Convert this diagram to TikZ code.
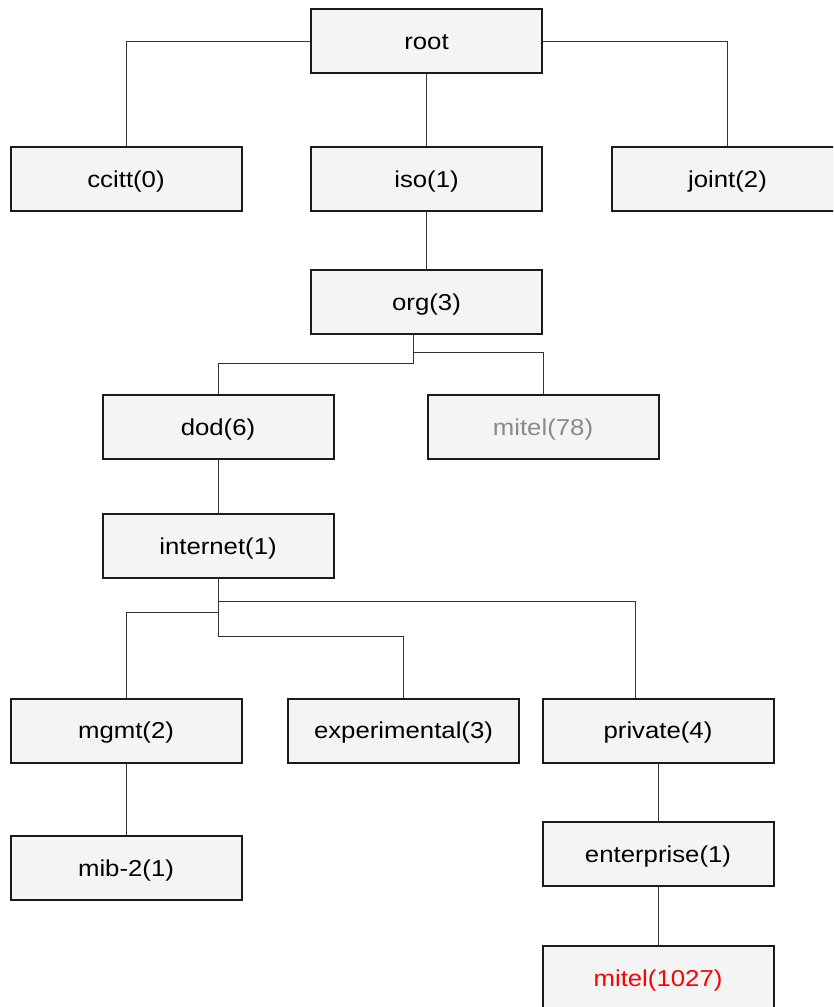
\documentclass[tikz,border=0pt]{standalone}
\usepackage{fontspec}
\setmainfont{Liberation Sans}[FakeStretch=1.12]
\definecolor{boxfill}{HTML}{F4F4F4}
\definecolor{boxline}{HTML}{1A1A1A}
\definecolor{conline}{HTML}{333333}
\definecolor{graytext}{HTML}{8A8A8A}
\begin{document}
\begin{tikzpicture}[x=1pt,y=-1pt,
  oidbox/.style={draw=boxline, line width=2pt, fill=boxfill, rectangle,
    minimum width=231pt, minimum height=64pt, inner sep=0pt,
    text height=16.5pt, text depth=0pt,
    font=\fontsize{23}{27}\selectfont},
  conn/.style={draw=conline, line width=1pt}]
\useasboundingbox (0,0) rectangle (833,1007);
\clip (0,0) rectangle (833,1007);

\node[oidbox] (root) at (426.5,41) {root};
\node[oidbox] (ccitt) at (126,179) {ccitt(0)};
\node[oidbox] (iso) at (426.5,179) {iso(1)};
\node[oidbox] (joint) at (727.5,179) {joint(2)};
\node[oidbox] (org) at (426.5,302) {org(3)};
\node[oidbox] (dod) at (218,427) {dod(6)};
\node[oidbox, text=graytext] (mitelA) at (543,427) {mitel(78)};
\node[oidbox] (internet) at (218,546) {internet(1)};
\node[oidbox] (mgmt) at (126,730.5) {mgmt(2)};
\node[oidbox] (exper) at (403.5,730.5) {experimental(3)};
\node[oidbox] (private) at (658,730.5) {private(4)};
\node[oidbox] (mib) at (126,868) {mib-2(1)};
\node[oidbox] (enter) at (658,854) {enterprise(1)};
\node[oidbox, text=red] (mitelB) at (658,978) {mitel(1027)};

\path[conn] (root.west) -| (ccitt.north);
\path[conn] (root.east) -| (joint.north);
\path[conn] (root.south) -- (iso.north);
\path[conn] (iso.south) -- (org.north);
\path[conn] ([xshift=-13.5pt]org.south) |- ([yshift=31pt]dod.north) -- (dod.north);
\path[conn] ([xshift=-13.5pt]org.south) |- ([yshift=42pt]mitelA.north) -- (mitelA.north);
\path[conn] (dod.south) -- (internet.north);
\path[conn] (internet.south) |- ([xshift=-23pt,yshift=96pt]private.north) -- ([xshift=-23pt]private.north);
\path[conn] (internet.south) |- ([yshift=85pt]mgmt.north) -- (mgmt.north);
\path[conn] (internet.south) |- ([yshift=61pt]exper.north) -- (exper.north);
\path[conn] (mgmt.south) -- (mib.north);
\path[conn] (private.south) -- (enter.north);
\path[conn] (enter.south) -- (mitelB.north);
\end{tikzpicture}
\end{document}
